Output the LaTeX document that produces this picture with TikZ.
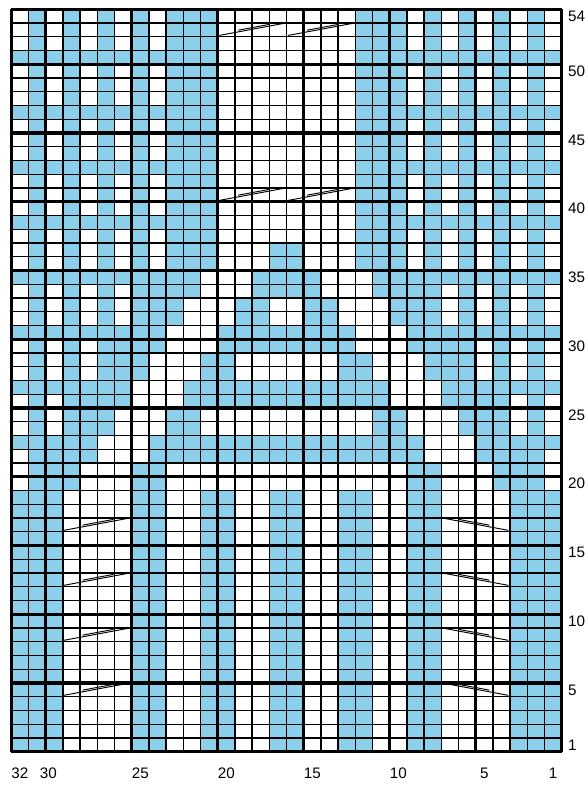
\documentclass[tikz,border=0pt]{standalone}
\usepackage{fontspec}
\setmainfont{Liberation Sans}
\definecolor{knitblue}{HTML}{8CCFEB}
\tikzset{
  thinrule/.style={line width=1.2pt, black},
  thickrule/.style={line width=2.8pt, black},
  numlabel/.style={font=\fontsize{13}{13}\selectfont, inner sep=0pt},
  cablemark/.style={line width=0.8pt, black},
}
% one chart row, mirrored: #1 = row, #2 = 16 marks from column 16 to column 1 (x = blue)
\newcommand\knitrow[2]{%
  \def\knitr{#1}\def\knitcol{0}%
  \knitscan#2\relax}
\def\knitscan#1{%
  \ifx#1\relax\else
    \if#1x%
      \fill[knitblue] (16+\knitcol,\knitr-1) rectangle ++(1,1);
      \fill[knitblue] (15-\knitcol,\knitr-1) rectangle ++(1,1);%
    \fi
    \pgfmathtruncatemacro\knitcol{\knitcol+1}%
    \expandafter\knitscan
  \fi}
% cable mark over four stitches
\newcommand\cableup[2]{% #1 left x, #2 row
  \draw[cablemark] (#1,#2-0.9) -- (#1+3.85,#2);
  \draw[cablemark] (#1+1.1,#2-0.52) -- (#1+2.9,#2-0.1);}
\newcommand\cabledown[2]{%
  \draw[cablemark] (#1,#2) -- (#1+3.85,#2-0.9);
  \draw[cablemark] (#1+0.95,#2-0.1) -- (#1+2.75,#2-0.52);}

\begin{document}
\begin{tikzpicture}[x=0.516cm, y=0.4125cm]
  \useasboundingbox (-0.657,-2.567) rectangle (33.529,54.676);
  % plaid top
  \foreach \r in {54,53,52,50,49,48,46,45,44,42,41,40,38}
    {\knitrow{\r}{....xxx.x.x.x.x.}}
  \foreach \r in {51,47,43,39}
    {\knitrow{\r}{....xxxxxxxxxxxx}}
  % tree motif
  \knitrow{37}{x...xxx.x.x.x.x.}
  \knitrow{36}{x...xxx.x.x.x.x.}
  \knitrow{35}{xx...xxxxxxxxxxx}
  \knitrow{34}{xx...xxxx.x.x.x.}
  \knitrow{33}{.xx...xxx.x.x.x.}
  \knitrow{32}{.xx...xxx.x.x.x.}
  \knitrow{31}{xxxx...xxxxxxxxx}
  \knitrow{30}{xxxx...xxxx.x.x.}
  \knitrow{29}{...xx...xxx.x.x.}
  \knitrow{28}{...xx...xxx.x.x.}
  \knitrow{27}{xxxxxx...xxxxxxx}
  \knitrow{26}{xxxxxx...xxxx.x.}
  \knitrow{25}{.....xx...xxx.x.}
  \knitrow{24}{.....xx...xxx.x.}
  \knitrow{23}{xxxxxxxx...xxxxx}
  \knitrow{22}{xxxxxxxx...xxxx.}
  \knitrow{21}{.......xx...xxx.}
  \knitrow{20}{.......xx...xxx.}
  % stripes
  \foreach \r in {1,...,19}
    {\knitrow{\r}{x..xx..xx....xxx}}
  % grid
  \foreach \i in {0,...,32}
    \draw[thinrule] (\i,0) -- (\i,54);
  \foreach \j in {0,...,54}
    \draw[thinrule] (0,\j) -- (32,\j);
  \foreach \i in {0,2,7,12,17,22,27,32}
    \draw[thickrule] (\i,0) -- (\i,54);
  \foreach \j in {0,5,10,...,50,54}
    \draw[thickrule] (0,\j) -- (32,\j);
  % cables
  \foreach \r in {5,9,13,17} {
    \cableup{3.05}{\r}
    \cabledown{25.05}{\r}
  }
  \foreach \r in {41,53} {
    \cableup{12.1}{\r}
    \cableup{16.1}{\r}
  }
  % numbers
  \foreach \r in {1,5,10,15,20,25,30,35,40,45,50,54}
    \node[numlabel, anchor=west] (row\r) at (32.37,\r-0.5) {\r};
  \foreach \c in {32,25,20,15,10,5,1}
    \node[numlabel] (col\c) at (32.5-\c,-1.56) {\c};
  \node[numlabel] (col30) at (2.15,-1.56) {30};
\end{tikzpicture}
\end{document}
